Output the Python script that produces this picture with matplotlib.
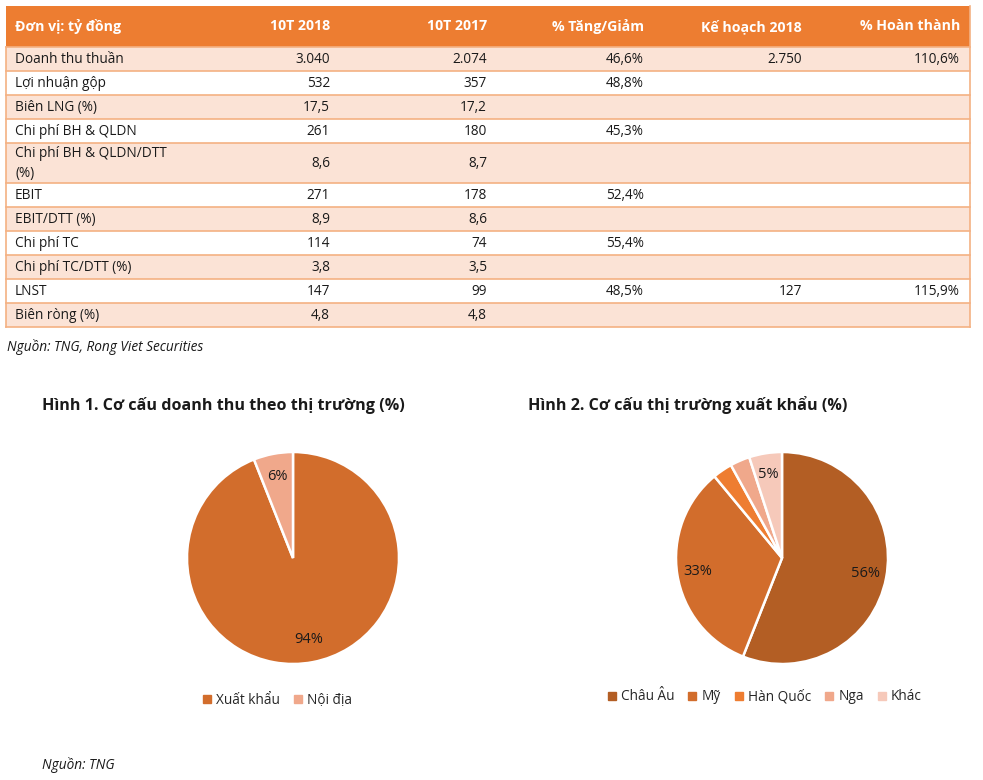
import matplotlib
matplotlib.use("Agg")
import matplotlib.pyplot as plt
from matplotlib.patches import Rectangle
from matplotlib.lines import Line2D

plt.rcParams['font.family'] = ['Open Sans', 'DejaVu Sans']

# ---------------- data ----------------
headers = ["Đơn vị: tỷ đồng", "10T 2018", "10T 2017", "% Tăng/Giảm", "Kế hoạch 2018", "% Hoàn thành"]
row_labels = ["Doanh thu thuần", "Lợi nhuận gộp", "Biên LNG (%)", "Chi phí BH & QLDN",
              "Chi phí BH & QLDN/DTT\n(%)", "EBIT", "EBIT/DTT (%)", "Chi phí TC",
              "Chi phí TC/DTT (%)", "LNST", "Biên ròng (%)"]
t2018 = ["3.040", "532", "17,5", "261", "8,6", "271", "8,9", "114", "3,8", "147", "4,8"]
t2017 = ["2.074", "357", "17,2", "180", "8,7", "178", "8,6", "74", "3,5", "99", "4,8"]
change = ["46,6%", "48,8%", "", "45,3%", "", "52,4%", "", "55,4%", "", "48,5%", ""]
plan2018 = ["2.750", "", "", "", "", "", "", "", "", "127", ""]
completion = ["110,6%", "", "", "", "", "", "", "", "", "115,9%", ""]

pie1_labels = ["Xuất khẩu", "Nội địa"]
pie1_values = [94, 6]
pie2_labels = ["Châu Âu", "Mỹ", "Hàn Quốc", "Nga", "Khác"]
pie2_values = [56, 33, 3, 3, 5]

# ---------------- styles ----------------
W, H = 983, 780
header_color = "#ED7D31"
band_color = "#FBE3D6"
line_color = "#F4B183"
text_color = "#1a1a1a"
pie1_colors = ["#D26D2C", "#F0A88B"]
pie2_colors = ["#B35E24", "#D26D2C", "#EE7D31", "#F0A88B", "#F6C9BA"]

fig = plt.figure(figsize=(W / 100, H / 100), dpi=100)
ax = fig.add_axes([0, 0, 1, 1])
ax.set_xlim(0, W)
ax.set_ylim(H, 0)
ax.axis('off')

# ---------------- table ----------------
x_left, x_right = 6, 970
label_x = 15
col_right = [330, 487, 644, 802, 960]
top = 6
header_h = 41
fs = 9.8

ax.add_patch(Rectangle((x_left, top), x_right - x_left, header_h, facecolor=header_color, edgecolor='none'))
ax.text(label_x, top + header_h / 2, headers[0], color='white', fontsize=10.2, fontweight='bold', va='center', ha='left')
for xr, h in zip(col_right, headers[1:]):
    ax.text(xr, top + header_h / 2, h, color='white', fontsize=10.2, fontweight='bold', va='center', ha='right')

y = top + header_h
cols = [t2018, t2017, change, plan2018, completion]
for i, lab in enumerate(row_labels):
    rh = 40 if "\n" in lab else 24
    fc = band_color if i % 2 == 0 else 'white'
    ax.add_patch(Rectangle((x_left, y), x_right - x_left, rh, facecolor=fc, edgecolor='none'))
    ax.add_line(Line2D([x_left, x_right], [y, y], color=line_color, lw=1.2))
    ax.text(label_x, y + rh / 2 + 0.5, lab, color=text_color, fontsize=fs, va='center', ha='left', linespacing=1.45)
    for xr, col in zip(col_right, cols):
        if col[i]:
            ax.text(xr, y + rh / 2 + 0.5, col[i], color=text_color, fontsize=fs, va='center', ha='right')
    y += rh
ax.add_line(Line2D([x_left, x_right], [y, y], color=line_color, lw=1.2))
ax.add_line(Line2D([x_left, x_left], [top + header_h, y], color=line_color, lw=1.2))
ax.add_line(Line2D([x_right, x_right], [top, y], color=line_color, lw=1.2))

ax.text(7, 347, "Nguồn: TNG, Rong Viet Securities", fontsize=9.8, style='italic', va='center', ha='left', color=text_color)

# ---------------- titles ----------------
ax.text(42, 405, "Hình 1. Cơ cấu doanh thu theo thị trường (%)", fontsize=11.6, fontweight='bold', va='center', ha='left', color=text_color)
ax.text(528, 405, "Hình 2. Cơ cấu thị trường xuất khẩu (%)", fontsize=11.6, fontweight='bold', va='center', ha='left', color=text_color)
ax.text(42, 765, "Nguồn: TNG", fontsize=9.8, style='italic', va='center', ha='left', color=text_color)


def draw_pie(cx, cy, r, values, labels, colors, legend_y, legend_cx, min_label, pctd):
    pax = fig.add_axes([(cx - r) / W, 1 - (cy + r) / H, 2 * r / W, 2 * r / H])
    wedges, _, autotexts = pax.pie(values, colors=colors, startangle=90, counterclock=False,
                                    autopct=lambda p: f"{p:.0f}%" if p >= min_label else "",
                                    pctdistance=pctd,
                                    wedgeprops=dict(edgecolor='white', linewidth=1.8),
                                    textprops=dict(fontsize=10.5, color=text_color))
    pax.set_xlim(-1, 1)
    pax.set_ylim(-1, 1)
    pax.set_aspect('equal')
    for w in wedges:
        w.set_clip_on(False)
    handles = [Line2D([], [], marker='s', linestyle='none', markersize=5.5, markerfacecolor=c,
                      markeredgecolor=c) for c in colors]
    fig.legend(handles, labels, loc='center', bbox_to_anchor=(legend_cx / W, 1 - legend_y / H),
               ncol=len(labels), frameon=False, fontsize=9.8, handletextpad=0.25, columnspacing=0.95,
               handlelength=0.8, labelcolor='#262626')


draw_pie(293, 558, 106, pie1_values, pie1_labels, pie1_colors, 700, 277, 5, 0.78)
draw_pie(782, 558, 106, pie2_values, pie2_labels, pie2_colors, 697, 764, 5, 0.8)

fig.savefig("out.png", dpi=100)
